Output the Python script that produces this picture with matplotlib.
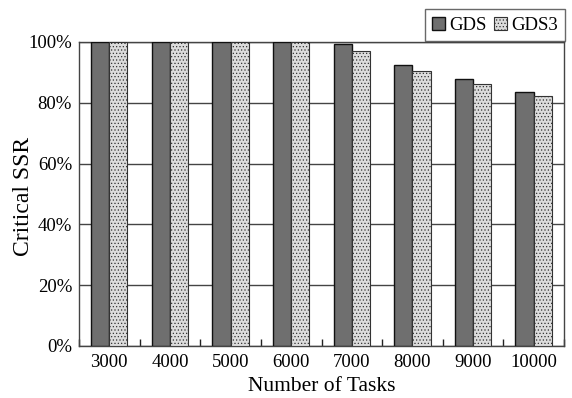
import matplotlib
matplotlib.use("Agg")
import matplotlib.pyplot as plt
import numpy as np

categories = ["3000", "4000", "5000", "6000", "7000", "8000", "9000", "10000"]
gds = [100, 100, 100, 100, 99.2, 92.3, 87.8, 83.6]
gds3 = [100, 100, 100, 100, 97.0, 90.6, 86.3, 82.1]
yticks = [0, 20, 40, 60, 80, 100]
ytick_labels = ["0%", "20%", "40%", "60%", "80%", "100%"]

plt.rcParams['font.family'] = ['Liberation Serif', 'DejaVu Serif']
plt.rcParams['hatch.color'] = '#a8a8a8'
plt.rcParams['hatch.linewidth'] = 0.5

fig = plt.figure(figsize=(5.72, 3.98), dpi=100)
ax = fig.add_axes([79/572, 1-346/398, (564-79)/572, (346-42)/398])

x = np.arange(len(categories))
w = 0.3
ax.bar(x - w/2, gds, w, color='#6f6f6f', edgecolor='#111111', linewidth=1.0, label='GDS', zorder=3)
ax.bar(x + w/2, gds3, w, color='#dcdcdc', edgecolor='#333333', linewidth=0.8, hatch='.....', label='GDS3', zorder=3)

ax.set_xlim(-0.5, len(categories) - 0.5)
ax.set_ylim(0, 100)
ax.set_yticks(yticks)
ax.set_yticklabels(ytick_labels, fontsize=13.5)
ax.set_xticks(x)
ax.set_xticklabels(categories, fontsize=13.5)
ax.tick_params(axis='x', length=0, pad=6)
ax.tick_params(axis='y', length=0, pad=5)
ax.set_xticks(np.arange(len(categories) + 1) - 0.5, minor=True)
ax.tick_params(axis='x', which='minor', direction='in', length=5, width=1, color='#222222')
ax.yaxis.grid(True, color='#444444', linewidth=1.0, zorder=0)
ax.set_axisbelow(True)
for s in ax.spines.values():
    s.set_color('#444444')
    s.set_linewidth(1.0)

ax.set_xlabel("Number of Tasks", fontsize=15.5, labelpad=4)
fig.text(24/572, 1-196/398, "Critical SSR", fontsize=17, rotation=90,
         ha='center', va='center')

leg = fig.legend(loc='upper right', bbox_to_anchor=(565/572, 1-9/398), ncol=2,
                 fontsize=13.5, frameon=True, fancybox=False, handlelength=0.7,
                 handleheight=0.7, handletextpad=0.2, columnspacing=0.4,
                 borderpad=0.4, borderaxespad=0)
leg.get_frame().set_edgecolor('#444444')
leg.get_frame().set_linewidth(1.0)

fig.savefig("out.png", dpi=100)
